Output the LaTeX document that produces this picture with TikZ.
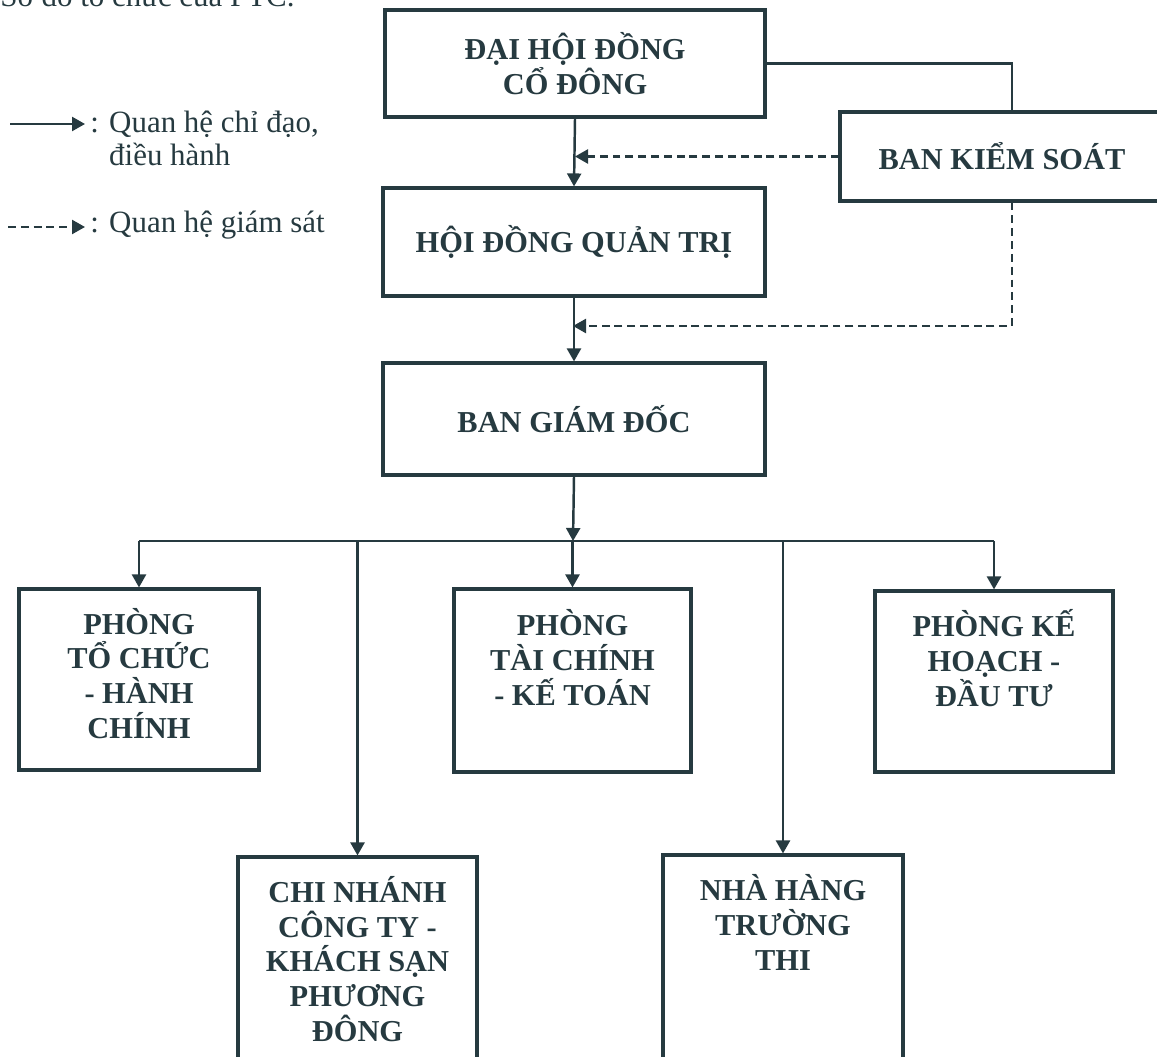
\documentclass[tikz,border=0pt]{standalone}
\usepackage{fontspec}
\setmainfont{Liberation Serif}
\newfontfamily\boxfont{Liberation Serif}
\usepackage{xcolor}
\usetikzlibrary{arrows.meta, positioning}
\definecolor{ink}{RGB}{38,58,64}
\tikzset{
    >={Triangle[length=0.26cm, width=0.28cm]}, % filled heads as in the scan
    box/.style={draw=ink, line width=1.8pt, inner sep=0pt}, % every unit of the company
    boxlabel/.style={text=ink, font=\boxfont\bfseries\fontsize{17.3}{19.8}\selectfont, align=center, inner sep=0pt},
    link/.style={draw=ink, line width=1.4pt, ->}, % directing line
    watch/.style={link, dash pattern=on 4.5pt off 2.8pt}, % supervising line
    legend/.style={text=ink, font=\fontsize{17.6}{19.3}\selectfont, align=left, inner sep=0.1cm},
}

\begin{document}
\begin{tikzpicture}[x=0.02cm, y=-0.02cm]
    \useasboundingbox (0,0) rectangle (1157,1057);
    \clip (0,0) rectangle (1157,1057);

    % title and legend
    \node[legend, anchor=base west, inner sep=0pt] (title) at (0,7) {Sơ đồ tổ chức của PTC.};
    \coordinate (lg1s) at (10,124);
    \node[legend, anchor=base west] (lg1) at (85,166) {: Quan hệ chỉ đạo,\\\phantom{: }điều hành};
    \coordinate (lg2s) at (8,227);
    \node[legend, anchor=base west] (lg2) at (85,233) {: Quan hệ giám sát};
    \draw[link] (lg1s) -- (lg1s -| lg1.west);
    \draw[watch] (lg2s) -- (lg2s -| lg2.west);

    % top of the company
    \node[box, boxlabel, minimum width=7.6cm, minimum height=2.14cm] (dhcd) at (575,63.5) {ĐẠI HỘI ĐỒNG\\CỔ ĐÔNG};
    \node[box, boxlabel, minimum width=7.64cm, minimum height=2.16cm] (hdqt) at (574,242) {HỘI ĐỒNG QUẢN TRỊ};
    \node[box, boxlabel, minimum width=7.64cm, minimum height=2.24cm] (bgd) at (574,419) {BAN GIÁM ĐỐC};
    \node[box, boxlabel, minimum width=6.88cm, minimum height=1.78cm] (bks) at (1012,156.5) {BAN KIỂM SOÁT\hspace*{0.4cm}};

    % departments
    \node[box, minimum width=4.8cm, minimum height=3.62cm] (ptc) at (139,679.5) {};
    \node[box, minimum width=4.74cm, minimum height=3.66cm] (ptk) at (572.5,680.5) {};
    \node[box, minimum width=4.76cm, minimum height=3.62cm] (pkh) at (994,681.5) {};
    \node[box, minimum width=4.78cm, minimum height=4.86cm] (cn) at (357.5,978.5) {};
    \node[box, minimum width=4.8cm, minimum height=4.9cm] (nh) at (783,977.5) {};

    % labels hang from the top edge (base = last line)
    \node[boxlabel, anchor=base] (ptcText) at ([yshift=-3.02cm]ptc.north) {PHÒNG\\TỔ CHỨC\\- HÀNH\\CHÍNH};
    \node[boxlabel, anchor=base] (ptkText) at ([yshift=-2.36cm]ptk.north) {PHÒNG\\TÀI CHÍNH\\- KẾ TOÁN};
    \node[boxlabel, anchor=base] (pkhText) at ([yshift=-2.34cm]pkh.north) {PHÒNG KẾ\\HOẠCH -\\ĐẦU TƯ};
    \node[boxlabel, anchor=base] (cnText) at ([yshift=-3.72cm]cn.north) {CHI NHÁNH\\CÔNG TY -\\KHÁCH SẠN\\PHƯƠNG\\ĐÔNG};
    \node[boxlabel, anchor=base] (nhText) at ([yshift=-2.34cm]nh.north) {NHÀ HÀNG\\TRƯỜNG\\THI};

    % connectors
    \coordinate (bus) at (573,541);
    \coordinate (sv2) at (573,326);
    \draw[link] (dhcd.south) -- (hdqt.north);
    \draw[link] (hdqt.south) -- (bgd.north);
    \draw[draw=ink, line width=1.4pt] (dhcd.east) -| (bks.north);
    \draw[watch] (bks.west) -- (bks.west -| dhcd.south);
    \draw[watch] (bks.south) |- (sv2);
    \draw[link] (bgd.south) -- (bus);
    \draw[draw=ink, line width=1.4pt] (bus -| ptc.north) -- (bus -| pkh.north);
    \foreach \b in {ptc, ptk, pkh, cn, nh}
        \draw[link] (bus -| \b.north) -- (\b.north);
\end{tikzpicture}
\end{document}
